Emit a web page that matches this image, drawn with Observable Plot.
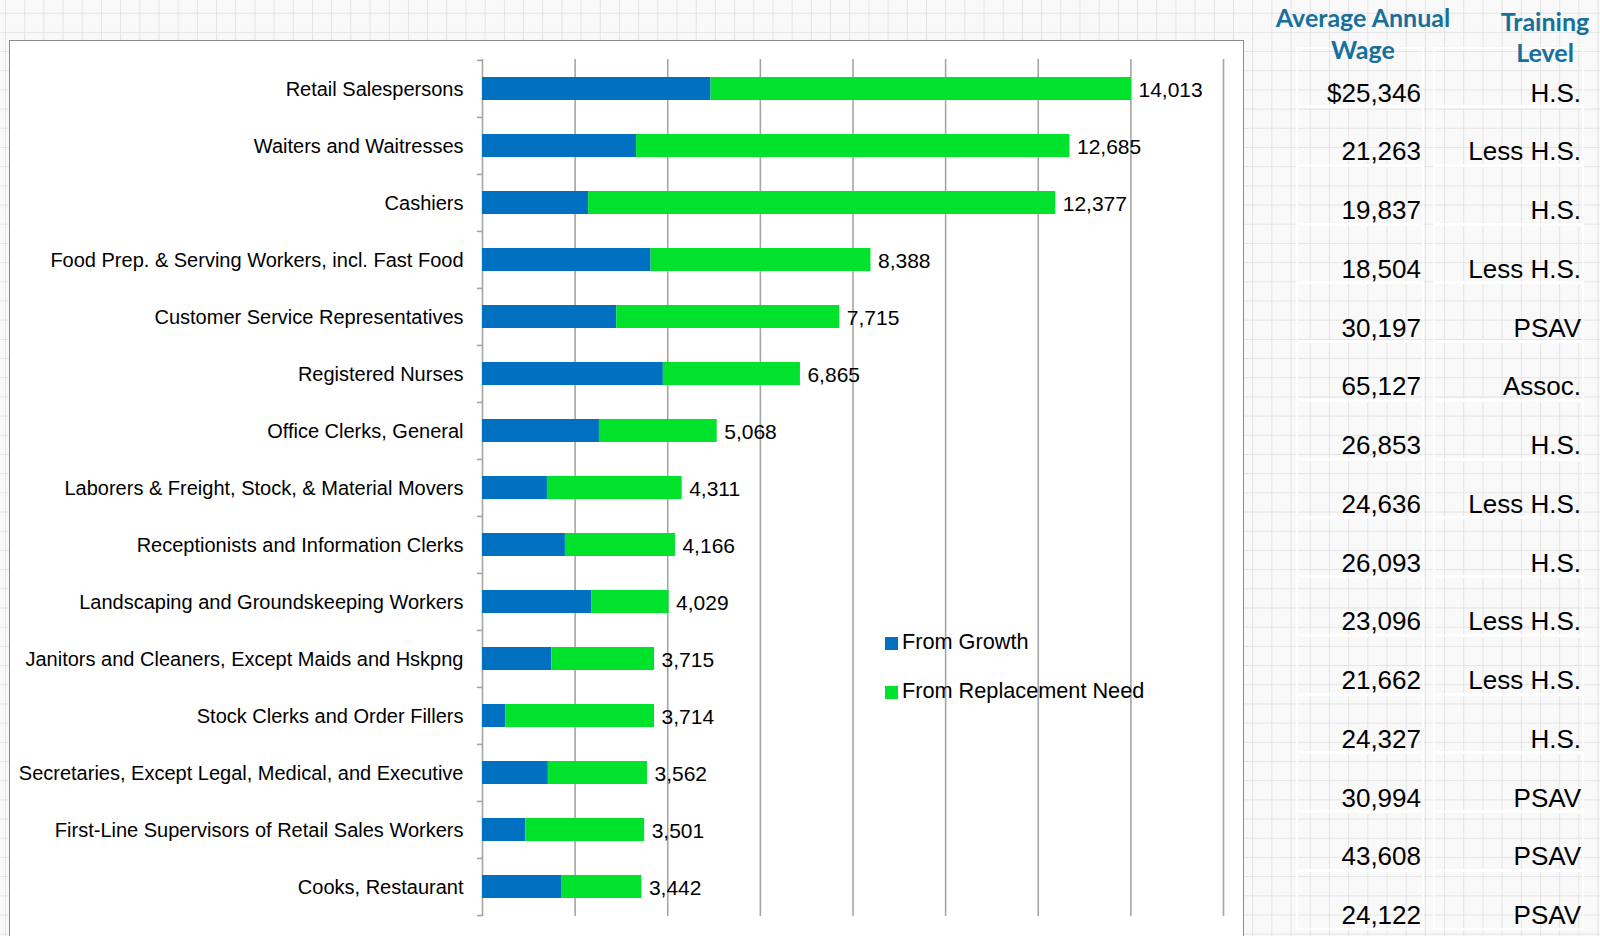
<!DOCTYPE html>
<html>
<head>
<meta charset="utf-8">
<script src="https://cdn.jsdelivr.net/npm/d3@7"></script>
<script src="https://cdn.jsdelivr.net/npm/@observablehq/plot@0.6"></script>
<style>
  html, body { margin: 0; padding: 0; width: 1600px; height: 936px; overflow: hidden; }
  body {
    position: relative;
    background-color: #f9f9f9;
    background-image:
      linear-gradient(to right, #e3e3e3 1px, transparent 1px),
      linear-gradient(to bottom, #e3e3e3 1px, transparent 1px);
    background-size: 19.2px 19.2px;
    background-position: 5px 12.7px;
    font-family: "Liberation Sans", Arial, sans-serif;
  }
  #box {
    position: absolute; left: 9px; top: 40px; width: 1233px; height: 960px;
    background: #fff; border: 1.5px solid #8c8c8c;
  }
  #chart { position: absolute; left: 0; top: 0; }
  .legend { position: absolute; font-size: 21.7px; color: #000; white-space: nowrap; }
  .legend span.sw { display: inline-block; width: 13px; height: 13px; margin-right: 4px; vertical-align: -1px; }
  .hdr { position: absolute; font-family: Lato, "Open Sans", sans-serif; font-weight: 700; font-size: 25px; color: #17709c; white-space: nowrap; transform: translateX(-50%); line-height: 1; }
  .cell { position: absolute; font-size: 26px; color: #000; white-space: nowrap; text-align: right; line-height: 1; }
  .frame { position: absolute; border: 2px solid #ffffff; box-sizing: border-box; }
</style>
</head>
<body>
<div id="box"></div>
<div id="frames"></div>
<div id="table"></div>
<div id="chart"></div>
<div id="legend"></div>
<script>
// ---------- data ----------
const categories = [
  "Retail Salespersons",
  "Waiters and Waitresses",
  "Cashiers",
  "Food Prep. & Serving Workers, incl. Fast Food",
  "Customer Service Representatives",
  "Registered Nurses",
  "Office Clerks, General",
  "Laborers & Freight, Stock, & Material Movers",
  "Receptionists and Information Clerks",
  "Landscaping and Groundskeeping Workers",
  "Janitors and Cleaners, Except Maids and Hskpng",
  "Stock Clerks and Order Fillers",
  "Secretaries, Except Legal, Medical, and Executive",
  "First-Line Supervisors of Retail Sales Workers",
  "Cooks, Restaurant"
];
const seriesNames = ["From Growth", "From Replacement Need"];
const fromGrowth      = [4935, 3327, 2292, 3640, 2900, 3905, 2525, 1402, 1790, 2357, 1498, 507, 1422, 937, 1707];
const fromReplacement = [9078, 9358, 10085, 4748, 4815, 2960, 2543, 2909, 2376, 1672, 2217, 3207, 2140, 2564, 1735];
const totals          = [14013, 12685, 12377, 8388, 7715, 6865, 5068, 4311, 4166, 4029, 3715, 3714, 3562, 3501, 3442];
const wages = ["$25,346", "21,263", "19,837", "18,504", "30,197", "65,127", "26,853", "24,636", "26,093", "23,096", "21,662", "24,327", "30,994", "43,608", "24,122"];
const training = ["H.S.", "Less H.S.", "H.S.", "Less H.S.", "PSAV", "Assoc.", "H.S.", "Less H.S.", "H.S.", "Less H.S.", "Less H.S.", "H.S.", "PSAV", "PSAV", "PSAV"];
const xGrid = [0, 2000, 4000, 6000, 8000, 10000, 12000, 14000, 16000];
const tableHeaders = [["Average Annual", "Wage"], ["Training", "Level"]];
const colors = ["#0070c0", "#00e22b"];

// ---------- chart ----------
const rows = [];
categories.forEach((c, i) => {
  rows.push({cat: c, series: seriesNames[0], value: fromGrowth[i]});
  rows.push({cat: c, series: seriesNames[1], value: fromReplacement[i]});
});
const labels = categories.map((c, i) => ({cat: c, total: totals[i]}));

const W = 1600, H = 936, mT = 59, mB = 20, mL = 482, mR = 377;
const step = (H - mT - mB) / categories.length;

const chart = Plot.plot({
  width: W, height: H,
  marginLeft: mL, marginRight: mR, marginTop: mT, marginBottom: mB,
  style: {fontFamily: '"Liberation Sans", Arial, sans-serif', background: "transparent", color: "#000", overflow: "visible"},
  x: {domain: [0, 16000], axis: null},
  y: {domain: categories, paddingInner: 0.6, paddingOuter: 0.3, axis: null},
  color: {domain: seriesNames, range: colors},
  marks: [
    Plot.ruleX(xGrid, {x: d => d, stroke: "#a5a5a5", strokeWidth: 1.6}),
    Plot.ruleY(categories, {y: d => d, x1: -110, x2: 0, dy: -step / 2, stroke: "#a5a5a5", strokeWidth: 1.6, clip: false}),
    Plot.ruleY(categories.slice(-1), {y: d => d, x1: -110, x2: 0, dy: step / 2, stroke: "#a5a5a5", strokeWidth: 1.6, clip: false}),
    Plot.barX(rows, Plot.stackX({x: "value", y: "cat", fill: "series", order: seriesNames, inset: 0})),
    Plot.axisY({tickSize: 0, tickPadding: 19, fontSize: 20, label: null, fill: "#000", dy: 1}),
    Plot.text(labels, {x: "total", y: "cat", text: d => d3.format(",")(d.total), dx: 7, dy: 1, textAnchor: "start", fontSize: 21, fill: "#000"})
  ]
});
document.getElementById("chart").appendChild(chart);

// ---------- legend ----------
const leg = document.getElementById("legend");
const legY = [641, 690];
seriesNames.forEach((s, i) => {
  const d = document.createElement("div");
  d.className = "legend";
  d.style.left = "885px";
  d.style.top = (legY[i] - 12) + "px";
  d.innerHTML = `<span class="sw" style="background:${colors[i]}"></span>${s}`;
  leg.appendChild(d);
});

// ---------- table ----------
const frames = document.getElementById("frames");
const tbl = document.getElementById("table");
const headerCenters = [1363, 1545];
const headerBaselines = [[26, 58], [30, 61]];
tableHeaders.forEach((lines, j) => {
  lines.forEach((t, k) => {
    const d = document.createElement("div");
    d.className = "hdr";
    d.textContent = t;
    d.style.left = headerCenters[j] + "px";
    d.style.top = (headerBaselines[j][k] - 21) + "px";
    tbl.appendChild(d);
  });
});
const rowStep = 58.75, firstBase = 100;
const colRight = [1421, 1581];
const colFrames = [[1296, 1424], [1433, 1584]];
wages.forEach((w, i) => {
  const base = firstBase + i * rowStep;
  colFrames.forEach(([x0, x1]) => {
    const f = document.createElement("div");
    f.className = "frame";
    f.style.left = x0 + "px"; f.style.width = (x1 - x0) + "px";
    f.style.top = (base - 52.75) + "px"; f.style.height = (rowStep + 1) + "px";
    frames.appendChild(f);
  });
  [w, training[i]].forEach((t, j) => {
    const d = document.createElement("div");
    d.className = "cell";
    d.textContent = t;
    d.style.right = (1600 - colRight[j]) + "px";
    d.style.top = (base - 20.5) + "px";
    tbl.appendChild(d);
  });
});
</script>
</body>
</html>
